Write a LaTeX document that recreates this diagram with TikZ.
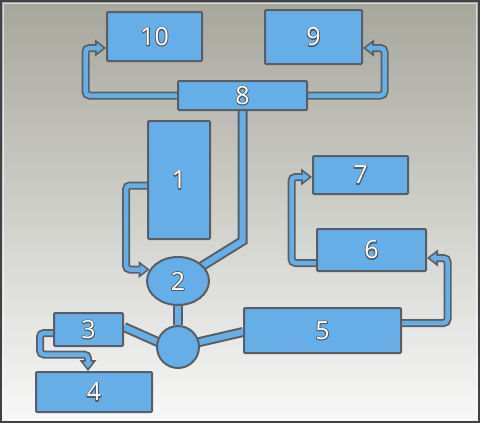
\documentclass[tikz,border=0pt]{standalone}
\usepackage{fontspec}
\newfontfamily\labelfont{Open Sans}
\usetikzlibrary{shapes.geometric,arrows.meta}
\definecolor{boxblue}{RGB}{102,174,232}
\definecolor{edgegray}{RGB}{90,94,100}
\definecolor{bgtop}{RGB}{166,166,156}
\definecolor{bgbottom}{RGB}{248,248,248}
\pgfdeclarelayer{bg}
\pgfdeclarelayer{pipes}
\pgfsetlayers{bg,pipes,main}
\tikzset{
  unit/.style={draw=edgegray,line width=2pt,fill=boxblue,text=white,
    font=\labelfont\fontsize{25}{29}\selectfont,inner sep=0pt},
  box/.style={unit,rounded corners=1pt},
  pipe out/.style={draw=edgegray,line width=10pt},
  pipe in/.style={draw=boxblue,line width=6pt},
  feed out/.style={draw=edgegray,line width=8pt,rounded corners=4pt,
    -{Triangle[length=11pt,width=17pt,line width=0pt]}},
  feed in/.style={draw=boxblue,line width=4.5pt,rounded corners=4pt,shorten >=2.8pt,
    -{Triangle[length=6.3pt,width=9.8pt,line width=0pt]}},
}
\newcommand\pipe[1]{\draw[pipe out] #1; \draw[pipe in] #1;}
\newcommand\feed[1]{\draw[feed out] #1; \draw[feed in] #1;}
% outline under, white fill on top
\newcommand\num[1]{\rlap{\special{pdf:literal direct 0.33 0.35 0.38 RG 1.8 w 1 j 1 Tr}#1\special{pdf:literal direct 0 Tr}}#1}

\begin{document}
\begin{tikzpicture}[x=1pt,y=-1pt]
  \useasboundingbox (0,0) rectangle (480,423);
  \begin{pgfonlayer}{bg}
    \shade[top color=bgtop,bottom color=bgbottom] (0,0) rectangle (480,423);
    \draw[white,opacity=.6,line width=.8pt] (3.5,3.5) rectangle (476.5,419.5);
    \draw[edgegray!70!black,line width=1.6pt] (0.8,0.8) rectangle (479.2,422.2);
  \end{pgfonlayer}

  % units
  \node[box,minimum width=95pt,minimum height=49pt] (n10) at (154.5,36.5) {\num{10}};
  \node[box,minimum width=97pt,minimum height=54pt] (n9) at (313.5,37) {\num{9}};
  \node[box,minimum width=129pt,minimum height=29pt] (n8) at (242.5,95.5) {\num{8}};
  \node[box,minimum width=62pt,minimum height=118pt] (n1) at (179,180) {\num{1}};
  \node[box,minimum width=95pt,minimum height=38pt] (n7) at (360.5,175) {\num{7}};
  \node[box,minimum width=109pt,minimum height=42pt] (n6) at (371.5,250) {\num{6}};
  \node[unit,ellipse,minimum width=62pt,minimum height=48pt] (n2) at (178,281) {\num{2}};
  \node[unit,circle,minimum size=42pt] (hub) at (178,347) {};
  \node[box,minimum width=69pt,minimum height=33pt] (n3) at (88.5,329.5) {\num{3}};
  \node[box,minimum width=157pt,minimum height=45pt] (n5) at (322.5,330.5) {\num{5}};
  \node[box,minimum width=116pt,minimum height=40pt] (n4) at (94,392) {\num{4}};

  % pipes
  \begin{pgfonlayer}{pipes}
    \feed{(n8.west) -- ++(-91.5,0) |- ([yshift=-11.5pt]n10.west)}
    \feed{(n8.east) -- ++(76.5,0) |- ([yshift=-11pt]n9.east)}
    \pipe{(n8.south) -- ++(0,130) -- (n2.center)}
    \feed{([yshift=-5.5pt]n1.west) -- ++(-21,0) |- (n2.158)}
    \pipe{(n2.south) -- (hub.north)}
    \pipe{([yshift=2.5pt]n3.east) -- ([yshift=-4pt]hub.center)}
    \pipe{(hub.center) -- ([yshift=-1.5pt]n5.west)}
    \feed{([yshift=7.5pt]n5.east) -- ++(45.5,0) |- ([yshift=-8pt]n6.east)}
    \feed{([yshift=-13pt]n6.west) -- ++(-24.5,0) |- ([yshift=-2pt]n7.west)}
    \feed{([yshift=-3.5pt]n3.west) -- ++(-13,0) -- ++(0,21.5) -| ([xshift=-6pt]n4.north)}
  \end{pgfonlayer}
\end{tikzpicture}
\end{document}
